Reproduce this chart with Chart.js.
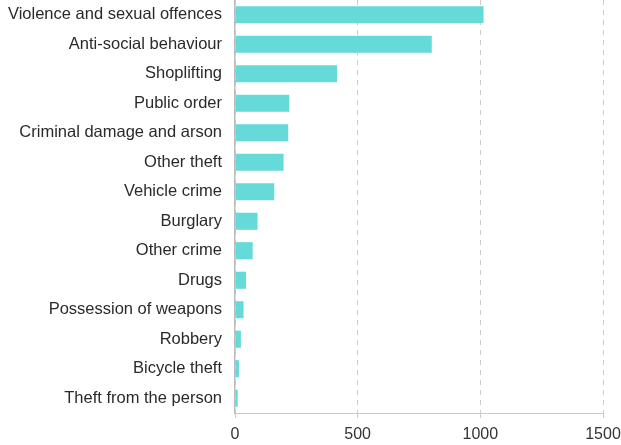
<!DOCTYPE html>
<html>
<head>
<meta charset="utf-8">
<script src="https://cdn.jsdelivr.net/npm/chart.js@4"></script>
<style>
  html, body { margin: 0; padding: 0; background: #fff; }
  #wrap { width: 621px; height: 445px; }
</style>
</head>
<body>
<div id="wrap"><canvas id="mychart"></canvas></div>
<script>
// data
let crimeTypes = [
  'Violence and sexual offences',
  'Anti-social behaviour',
  'Shoplifting',
  'Public order',
  'Criminal damage and arson',
  'Other theft',
  'Vehicle crime',
  'Burglary',
  'Other crime',
  'Drugs',
  'Possession of weapons',
  'Robbery',
  'Bicycle theft',
  'Theft from the person'
];
let crimeCounts = [1013, 802, 416, 221, 217, 198, 160, 92, 72, 45, 35, 24, 16, 11];
let xTicks = [0, 500, 1000, 1500];

let ctxWindow = document.getElementById('mychart');

let myObj = {
  type: 'bar',
  data: {
    labels: crimeTypes,
    datasets: [{
      data: crimeCounts,
      backgroundColor: '#66d9d9',
      borderWidth: 0,
      barPercentage: 0.58,
      categoryPercentage: 1
    }]
  },
  options: {
    indexAxis: 'y',
    responsive: true,
    maintainAspectRatio: false,
    animation: false,
    layout: { padding: { top: 0, right: 18, left: 0, bottom: 0 } },
    plugins: {
      legend: { display: false },
      tooltip: { enabled: false }
    },
    scales: {
      x: {
        min: 0,
        max: 1500,
        afterBuildTicks: function (axis) {
          axis.ticks = xTicks.map(v => ({ value: v }));
        },
        afterFit: function (axis) {
          axis.paddingLeft = 0;
          axis.paddingRight = 0;
          axis.height = 32;
        },
        grid: {
          color: '#cccccc',
          tickLength: 5,
          drawOnChartArea: true
        },
        border: { display: true, color: '#cccccc', dash: [5, 5] },
        ticks: {
          color: '#333',
          padding: 7,
          callback: function (v) { return String(v); },
          font: { family: 'Liberation Sans, Arial', size: 16 }
        }
      },
      y: {
        grid: { display: false, drawTicks: false },
        border: { display: true, color: '#bbbbbb', width: 1.5 },
        afterFit: function (axis) {
          axis.width = 235;
          axis.paddingTop = 0;
          axis.paddingBottom = 0;
        },
        ticks: {
          color: '#2a2a2a',
          padding: 13,
          font: { family: 'Liberation Sans, Arial', size: 16.5 }
        }
      }
    }
  }
};

const myChart = new Chart(ctxWindow, myObj);
</script>
</body>
</html>
